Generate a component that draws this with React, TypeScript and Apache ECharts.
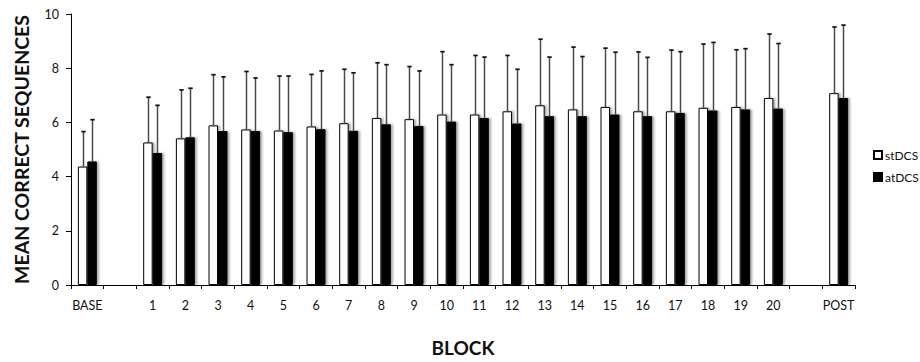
import React, { useEffect, useRef } from "react";
import * as echarts from "echarts";

const categories = ["BASE", " ", "1", "2", "3", "4", "5", "6", "7", "8", "9", "10", "11", "12", "13", "14", "15", "16", "17", "18", "19", "20", "  ", "POST"];

const stDCSMean = [4.37, null, 5.26, 5.41, 5.89, 5.74, 5.70, 5.85, 5.97, 6.16, 6.12, 6.29, 6.29, 6.41, 6.63, 6.48, 6.57, 6.41, 6.41, 6.54, 6.57, 6.90, null, 7.08];
const stDCSErr = [1.29, null, 1.67, 1.79, 1.87, 2.14, 2.01, 1.92, 1.99, 2.04, 1.94, 2.32, 2.18, 2.06, 2.44, 2.30, 2.17, 2.19, 2.26, 2.35, 2.11, 2.36, null, 2.44];

const atDCSMean = [4.56, null, 4.87, 5.45, 5.68, 5.68, 5.64, 5.75, 5.69, 5.93, 5.87, 6.03, 6.16, 5.96, 6.23, 6.23, 6.29, 6.23, 6.35, 6.44, 6.48, 6.51, null, 6.90];
const atDCSErr = [1.54, null, 1.76, 1.81, 2.00, 1.96, 2.07, 2.15, 2.14, 2.20, 2.03, 2.10, 2.25, 2.00, 2.18, 2.20, 2.30, 2.17, 2.26, 2.51, 2.24, 2.40, null, 2.69];

const yTicks = [0, 2, 4, 6, 8, 10];

const FONT = "Lato, 'Open Sans', sans-serif";
const BAR_FRAC = 0.29;

function errorSeries(means: (number | null)[], errs: (number | null)[], side: number) {
  const data = means
    .map((m, i) => (m == null || errs[i] == null ? null : [i, m, (m as number) + (errs[i] as number)]))
    .filter((d) => d != null);
  return {
    type: "custom",
    silent: true,
    z: 5,
    data,
    encode: { x: 0, y: [1, 2] },
    renderItem: (params: any, api: any) => {
      const idx = api.value(0);
      const lo = api.coord([idx, api.value(1)]);
      const hi = api.coord([idx, api.value(2)]);
      const band = api.size([1, 0])[0];
      const x = Math.round(lo[0] + side * band * BAR_FRAC * 0.5) + 0.5;
      const cap = 2.2;
      return {
        type: "group",
        children: [
          {
            type: "line",
            shape: { x1: x, y1: lo[1], x2: x, y2: hi[1] },
            style: { stroke: "#4a4a4a", lineWidth: 1.5 },
          },
          {
            type: "line",
            shape: { x1: x - cap, y1: hi[1], x2: x + cap, y2: hi[1] },
            style: { stroke: "#111", lineWidth: 1.7 },
          },
        ],
      };
    },
  };
}

export default function App() {
  const ref = useRef<HTMLDivElement>(null);
  useEffect(() => {
    document.body.style.margin = "0";
    const chart = echarts.init(ref.current!, null, { renderer: "svg" });
    const barShadow = {
      shadowColor: "rgba(0,0,0,0.35)",
      shadowBlur: 2,
      shadowOffsetX: 2,
      shadowOffsetY: 0,
    };
    chart.setOption({
      animation: false,
      backgroundColor: "#fff",
      grid: { left: 71, right: 65, top: 14, bottom: 69, containLabel: false },
      legend: {
        orient: "vertical",
        left: 873,
        top: 149,
        padding: 0,
        itemWidth: 8,
        itemHeight: 8,
        itemGap: 10,
        icon: "rect",
        selectedMode: false,
        textStyle: { fontFamily: FONT, fontSize: 12, color: "#111", padding: [0, 0, 0, -2] },
        itemStyle: { shadowBlur: 0, shadowOffsetX: 0, shadowColor: "transparent" },
        data: ["stDCS", "atDCS"],
      },
      xAxis: {
        type: "category",
        data: categories,
        name: "BLOCK",
        nameLocation: "middle",
        nameGap: 53,
        nameTextStyle: { fontFamily: FONT, fontSize: 19, fontWeight: "bold", color: "#111" },
        axisLine: { lineStyle: { color: "#000", width: 1 } },
        axisTick: { show: true, interval: 0, length: 4, lineStyle: { color: "#000" } },
        axisLabel: { interval: 0, margin: 14, fontFamily: FONT, fontSize: 12.5, color: "#111" },
      },
      yAxis: {
        type: "value",
        min: 0,
        max: 10,
        interval: 2,
        name: "MEAN CORRECT SEQUENCES",
        nameLocation: "middle",
        nameGap: 40,
        nameTextStyle: { fontFamily: FONT, fontSize: 19.5, fontWeight: "bold", color: "#111" },
        splitLine: { show: false },
        axisLine: { show: true, lineStyle: { color: "#000", width: 1 } },
        axisTick: { show: true, length: 5, lineStyle: { color: "#000" } },
        axisLabel: {
          margin: 12,
          fontFamily: FONT,
          fontSize: 12.5,
          color: "#111",
          formatter: (v: number) => (yTicks.includes(v) ? String(v) : ""),
        },
      },
      series: [
        {
          name: "stDCS",
          type: "bar",
          data: stDCSMean,
          barWidth: BAR_FRAC * 100 + "%",
          barGap: "0%",
          itemStyle: { color: "#fff", borderColor: "#000", borderWidth: 1, ...barShadow },
        },
        {
          name: "atDCS",
          type: "bar",
          data: atDCSMean,
          barWidth: BAR_FRAC * 100 + "%",
          barGap: "0%",
          itemStyle: { color: "#000", borderColor: "#000", borderWidth: 1, ...barShadow },
        },
        errorSeries(stDCSMean, stDCSErr, -1),
        errorSeries(atDCSMean, atDCSErr, 1),
      ],
    });
    return () => chart.dispose();
  }, []);
  return <div ref={ref} style={{ width: 920, height: 362 }} />;
}
